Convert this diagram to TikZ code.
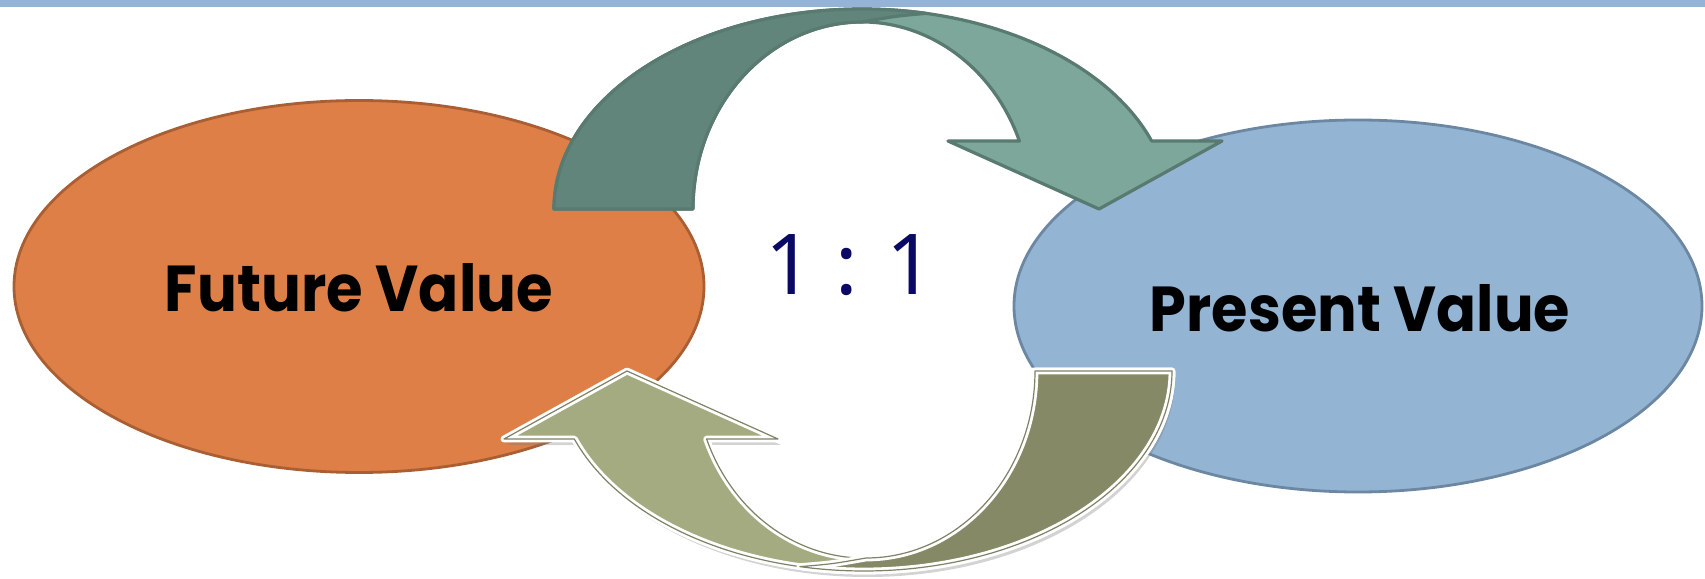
\documentclass[tikz,border=0pt]{standalone}
\usepackage{fontspec}
\usetikzlibrary{shapes.geometric,shadows}
\newfontfamily\lblfont{Poppins}
\newfontfamily\ratiofont{Noto Sans}
\definecolor{barblue}{HTML}{95B4D5}
\definecolor{fvfill}{HTML}{DD7F47}
\definecolor{fvline}{HTML}{A95F33}
\definecolor{pvfill}{HTML}{94B4D3}
\definecolor{pvline}{HTML}{6C87A2}
\definecolor{tealdark}{HTML}{62857B}
\definecolor{teallight}{HTML}{7DA79B}
\definecolor{tealline}{HTML}{587A70}
\definecolor{olivelight}{HTML}{A5AB80}
\definecolor{olivedark}{HTML}{858966}
\definecolor{oliveline}{HTML}{7E8266}
\definecolor{navy}{HTML}{0A0A66}
\begin{document}
\begin{tikzpicture}[x=0.5pt,y=0.5pt,
  oval/.style={ellipse, draw, line width=1.4pt, inner sep=0pt},
  label/.style={inner sep=0pt, text=black},
  tealpart/.style={draw=tealline, line width=1.6pt, line join=round},
  olivepart/.style={draw=white, line width=3.4pt, line join=round,
    postaction={draw=oliveline, line width=0.6pt, line join=round}}]
\useasboundingbox (0,0) rectangle (1705,579);
\fill[barblue] (0,572) rectangle (1705,579);
% ellipses
\node[oval, draw=fvline, fill=fvfill, minimum width=345pt, minimum height=186pt] (fv) at (359,292.5) {};
\node[oval, draw=pvline, fill=pvfill, minimum width=344pt, minimum height=186pt] (pv) at (1358,273) {};
\node[label] (fvl) at (359,291) {\resizebox{194pt}{24pt}{\lblfont\bfseries Future Value}};
\node[label] (pvl) at (1360,270.5) {\resizebox{210pt}{23.5pt}{\lblfont\bfseries Present Value}};
\node[inner sep=0pt, text=navy] (ratio) at (850,314) {\ratiofont\fontsize{42pt}{44pt}\selectfont 1 : 1};
% top arrow (full, light)
\path[tealpart, fill=teallight]
  (554,370) arc[start angle=180, end angle=19.88, x radius=308, y radius=200]
  -- (1222,438) -- (1099,370) -- (948,438) -- (1019.4,438)
  arc[start angle=21.32, end angle=180, x radius=169, y radius=187] -- cycle;
% top arrow tail (dark)
\path[tealpart, fill=tealdark]
  (554,370) arc[start angle=180, end angle=78, x radius=308, y radius=200]
  .. controls (896,563) .. (862,557)
  arc[start angle=90, end angle=180, x radius=169, y radius=187] -- cycle;
% bottom arrow (full, light)
\path[olivepart, fill=olivelight, drop shadow={shadow xshift=1.5pt, shadow yshift=-3pt, opacity=0.35}]
  (1172,208) arc[start angle=0, end angle=-160.12, x radius=308, y radius=200]
  -- (504,140) -- (627,208) -- (778,140) -- (706.6,140)
  arc[start angle=-158.68, end angle=0, x radius=169, y radius=187] -- cycle;
% bottom arrow tail (dark)
\path[olivepart, fill=olivedark]
  (1172,208) arc[start angle=0, end angle=-102, x radius=308, y radius=200]
  .. controls (832,15) .. (866,21)
  arc[start angle=-90, end angle=0, x radius=169, y radius=187] -- cycle;
\end{tikzpicture}
\end{document}
